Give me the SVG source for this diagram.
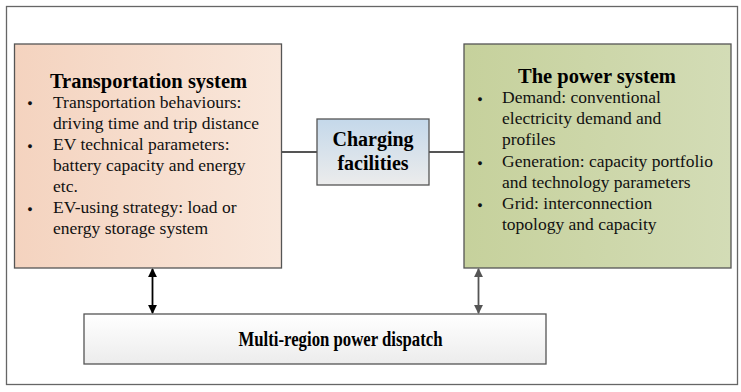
<svg xmlns="http://www.w3.org/2000/svg" width="741" height="392" viewBox="0 0 741 392">
<defs>
<linearGradient id="gL" x1="0" y1="0" x2="1" y2="0"><stop offset="0" stop-color="#f4d3bf"/><stop offset="1" stop-color="#f9e7db"/></linearGradient>
<linearGradient id="gR" x1="0" y1="0" x2="1" y2="0"><stop offset="0" stop-color="#c6d19c"/><stop offset="1" stop-color="#d3dcb6"/></linearGradient>
<linearGradient id="gC" x1="0" y1="0" x2="0" y2="1"><stop offset="0" stop-color="#c4d8ea"/><stop offset="1" stop-color="#ececec"/></linearGradient>
<linearGradient id="gB" x1="0" y1="0" x2="0" y2="1"><stop offset="0" stop-color="#ffffff"/><stop offset="1" stop-color="#ececec"/></linearGradient>
<marker id="aK" viewBox="0 0 10 10" refX="9" refY="5" markerWidth="9" markerHeight="9" markerUnits="userSpaceOnUse" orient="auto-start-reverse"><path d="M0,0 L10,5 L0,10 z" fill="#000"/></marker>
<marker id="aG" viewBox="0 0 10 10" refX="9" refY="5" markerWidth="9" markerHeight="9" markerUnits="userSpaceOnUse" orient="auto-start-reverse"><path d="M0,0 L10,5 L0,10 z" fill="#555"/></marker>
</defs>
<style>
.box{stroke:#555;stroke-width:1.3}
.t{font-family:"Liberation Serif",serif;font-size:17.5px;fill:#111}
.b{font-family:"Liberation Serif",serif;font-size:9px;fill:#111}
.h{font-family:"Liberation Serif",serif;font-weight:bold;fill:#000}
</style>
<rect x="6.5" y="6.5" width="731" height="378" fill="#fff" stroke="#666" stroke-width="1.3"/>
<g id="connectors">
<line x1="282" y1="152" x2="317" y2="152" stroke="#555" stroke-width="1.8"/>
<line x1="429" y1="152" x2="464" y2="152" stroke="#555" stroke-width="1.8"/>
<line x1="152.5" y1="269" x2="152.5" y2="313" stroke="#000" stroke-width="1.8" marker-start="url(#aK)" marker-end="url(#aK)"/>
<line x1="478.5" y1="269" x2="478.5" y2="313" stroke="#555" stroke-width="1.8" marker-start="url(#aG)" marker-end="url(#aG)"/>
</g>
<g id="transport">
<rect class="box" x="14.5" y="44" width="267" height="224" fill="url(#gL)"/>
<text class="h" x="148.5" y="87.5" font-size="20.5" text-anchor="middle">Transportation system</text>
<g class="b" text-anchor="middle">
<text x="30" y="106">●</text>
<text x="30" y="148.5">●</text>
<text x="30" y="211.5">●</text>
</g>
<g class="t">
<text x="53" y="107.5">Transportation behaviours:</text>
<text x="53" y="128.5">driving time and trip distance</text>
<text x="53" y="150">EV technical parameters:</text>
<text x="53" y="171">battery capacity and energy</text>
<text x="53" y="192">etc.</text>
<text x="53" y="213">EV-using strategy: load or</text>
<text x="53" y="234">energy storage system</text>
</g>
</g>
<g id="charging">
<rect class="box" x="317" y="119" width="112" height="66" fill="url(#gC)"/>
<text class="h" x="373" y="146" font-size="20" text-anchor="middle">Charging</text>
<text class="h" x="373" y="170" font-size="20" text-anchor="middle">facilities</text>
</g>
<g id="power">
<rect class="box" x="464" y="44" width="267" height="224" fill="url(#gR)"/>
<text class="h" x="597" y="82.5" font-size="20.5" text-anchor="middle">The power system</text>
<g class="b" text-anchor="middle">
<text x="480" y="101.5">●</text>
<text x="480" y="165.5">●</text>
<text x="480" y="207.5">●</text>
</g>
<g class="t">
<text x="502" y="103">Demand: conventional</text>
<text x="502" y="124">electricity demand and</text>
<text x="502" y="145">profiles</text>
<text x="502" y="167">Generation: capacity portfolio</text>
<text x="502" y="188">and technology parameters</text>
<text x="502" y="209">Grid: interconnection</text>
<text x="502" y="230">topology and capacity</text>
</g>
</g>
<g id="dispatch">
<rect class="box" x="84" y="314" width="462" height="50" fill="url(#gB)"/>
<text class="h" x="238.5" y="346" font-size="20.5" textLength="204" lengthAdjust="spacingAndGlyphs">Multi-region power dispatch</text>
</g>
</svg>
